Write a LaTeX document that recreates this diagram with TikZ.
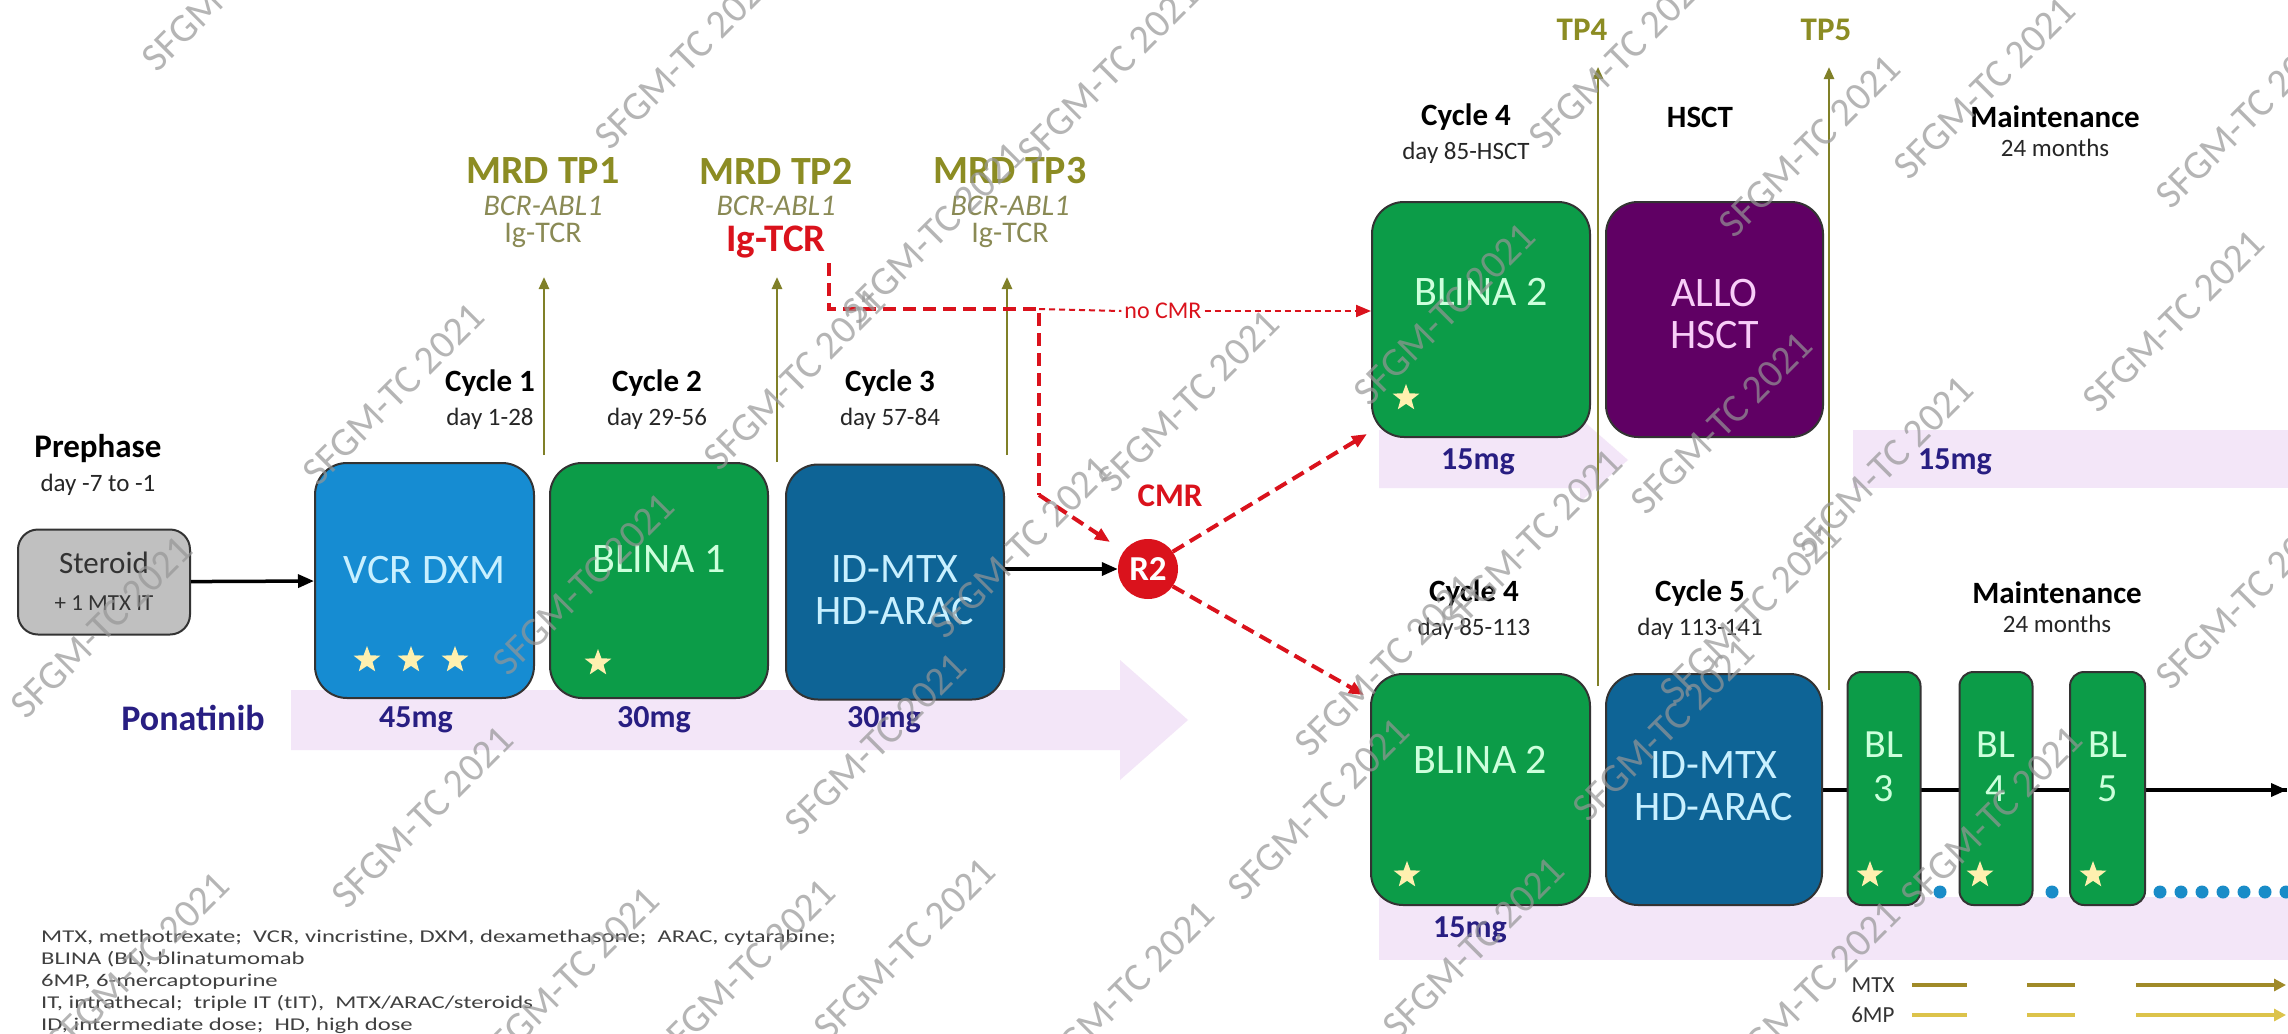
\documentclass[tikz,border=0pt]{standalone}
\usepackage{fontspec}
\setmainfont{Carlito}
\newfontfamily\legendfont{Carlito}[FakeStretch=1.37]
\usetikzlibrary{arrows.meta,positioning,shapes.geometric,calc}

% colours of the scheme
\definecolor{vcrblue}{RGB}{22,140,210}
\definecolor{blinagreen}{RGB}{12,156,72}
\definecolor{mtxblue}{RGB}{14,100,150}
\definecolor{alloplum}{RGB}{96,0,100}
\definecolor{steroidgray}{RGB}{192,192,192}
\definecolor{bandpink}{RGB}{243,230,248}
\definecolor{dosenavy}{RGB}{40,30,130}
\definecolor{tpolive}{RGB}{128,128,40}
\definecolor{mrdolive}{RGB}{140,140,35}
\definecolor{abltext}{RGB}{138,138,85}
\definecolor{cmrred}{RGB}{218,18,28}
\definecolor{dotblue}{RGB}{25,140,200}
\definecolor{mtxgold}{RGB}{160,138,40}
\definecolor{mpyellow}{RGB}{220,195,75}
\definecolor{starcream}{RGB}{255,240,175}
\definecolor{cyantext}{RGB}{200,240,255}
\definecolor{greentext}{RGB}{205,255,220}
\definecolor{pinktext}{RGB}{248,205,248}
\definecolor{wmgray}{RGB}{150,150,150}

\newcommand{\pxfont}[2]{\fontsize{#1}{#2}\selectfont}

\tikzset{
  phasebox/.style={draw=black!80, line width=2pt, rounded corners=32pt, inner sep=0pt, minimum height=235pt},
  blbox/.style={phasebox, rounded corners=14pt, fill=blinagreen, minimum width=73pt, minimum height=233pt},
  boxtxt/.style={align=center, font=\pxfont{42}{42}},
  head/.style={font=\bfseries\pxfont{31}{36}, inner sep=2pt},
  dayline/.style={font=\pxfont{25}{28}, text=black!85, inner sep=2pt, below=7pt of #1},
  dose/.style={font=\bfseries\pxfont{32}{36}, text=dosenavy},
  mrd/.style={font=\bfseries\pxfont{40}{44}, text=mrdolive, inner sep=2pt},
  marker/.style={font=\pxfont{30}{32}, text=abltext, inner sep=2pt},
  starmark/.style={star, star points=5, star point ratio=2.4, fill=starcream, minimum size=28pt, inner sep=0pt},
  tparrow/.style={-{Triangle[length=12pt,width=10pt]}, draw=tpolive, line width=2.5pt},
  flow/.style={-{Triangle[length=16pt,width=13pt]}, line width=3.5pt},
  cmrpath/.style={draw=cmrred, line width=4pt, dash pattern=on 13pt off 7pt},
  cmrthin/.style={draw=cmrred, line width=2pt, dash pattern=on 6pt off 4pt},
  redtip/.style={-{Triangle[length=15pt,width=12pt]}},
  wmark/.style={rotate=45, text=wmgray, font=\pxfont{40}{40}, opacity=.7},
}

\begin{document}
\begin{tikzpicture}[x=1pt, y=-1pt]
  \fill[white] (0,0) rectangle (2288,1033);
  \useasboundingbox (0,0) rectangle (2288,1033);

  % ponatinib bands
  \fill[bandpink] (291,690) -- (1120,690) -- (1120,660) -- (1188,720) -- (1120,780) -- (1120,750) -- (291,750) -- cycle;
  \fill[bandpink] (1379,430) -- (1580,430) -- (1580,418) -- (1628,460) -- (1580,502) -- (1580,488) -- (1379,488) -- cycle;
  \fill[bandpink] (1853,430) rectangle (2288,488);
  \fill[bandpink] (1379,897) rectangle (2288,960);

  % first line
  \node[phasebox, fill=steroidgray, minimum width=172pt, minimum height=105pt, rounded corners=20pt] (steroid) at (104,582) {};
  \node[font=\pxfont{31}{36}, text=black!80] at (104,563) {Steroid};
  \node[font=\pxfont{23}{26}, text=black!80] at (104,603) {+ 1 MTX IT};
  \node[phasebox, fill=vcrblue, minimum width=219pt] (vcr) at (424.5,580.5) {};
  \node[boxtxt, text=cyantext] at (424.5,570) {VCR DXM};
  \node[phasebox, fill=blinagreen, minimum width=218pt] (blina1) at (659,580.5) {};
  \node[boxtxt, text=greentext] at (659,559) {BLINA 1};
  \node[phasebox, fill=mtxblue, minimum width=218pt] (idmtx1) at (895,582) {};
  \node[boxtxt, text=cyantext] at (895,590) {ID-MTX\\HD-ARAC};
  \foreach \sx in {367,411,455} \node[starmark] at (\sx,660) {};
  \node[starmark] at (598,663) {};

  \node[head] (pre) at (98,449) {\pxfont{33}{38}Prephase};
  \node[dayline=pre] {day -7 to -1};
  \node[head] (cyc1) at (490,383) {Cycle 1};
  \node[dayline=cyc1] {day 1-28};
  \node[head] (cyc2) at (657,383) {Cycle 2};
  \node[dayline=cyc2] {day 29-56};
  \node[head] (cyc3) at (890,383) {Cycle 3};
  \node[dayline=cyc3] {day 57-84};

  \node[font=\bfseries\pxfont{36}{40}, text=dosenavy] at (193,718) {Ponatinib};
  \node[dose] at (416,720) {45mg};
  \node[dose] at (654,720) {30mg};
  \node[dose] at (884,720) {30mg};

  % MRD time points
  \node[mrd] (mrd1) at (543,171) {MRD TP1};
  \node[marker] (abl1) at (543,206) {\itshape BCR-ABL1};
  \node[marker] (ig1) at (543,235) {Ig-TCR};
  \node[mrd] (mrd2) at (776,171) {MRD TP2};
  \node[marker] (abl2) at (776,206) {\itshape BCR-ABL1};
  \node[mrd, text=cmrred, font=\bfseries\pxfont{39}{42}] (ig2) at (776,242) {Ig-TCR};
  \node[mrd] (mrd3) at (1010,171) {MRD TP3};
  \node[marker] (abl3) at (1010,206) {\itshape BCR-ABL1};
  \node[marker] (ig3) at (1010,235) {Ig-TCR};
  \coordinate (tp1foot) at (544,455);
  \coordinate (tp2foot) at (777,462);
  \coordinate (tp3foot) at (1007,455);
  \draw[tparrow] (tp1foot) -- (tp1foot |- 0,277);
  \draw[tparrow] (tp2foot) -- (tp2foot |- 0,277);
  \draw[tparrow] (tp3foot) -- (tp3foot |- 0,277);

  % randomisation R2
  \node[circle, fill=cmrred, minimum size=60pt, inner sep=0pt, text=white, font=\bfseries\pxfont{35}{36}] (r2) at (1148,569) {R2};
  \node[font=\bfseries\pxfont{33}{36}, text=cmrred] (cmr) at (1170,496) {CMR};
  \draw[flow] (steroid) -- (vcr);
  \draw[flow] (idmtx1.east |- r2) -- (r2);

  % second part, no CMR arm
  \node[phasebox, fill=blinagreen, minimum width=218pt] (blina2up) at (1481,319.5) {};
  \node[boxtxt, text=greentext] at (1481,292) {BLINA 2};
  \node[phasebox, fill=alloplum, minimum width=217pt] (allo) at (1714.5,319.5) {};
  \node[boxtxt, text=pinktext] at (1714.5,314) {ALLO\\HSCT};
  \node[starmark] at (1406,398) {};
  \node[head] (cyc4a) at (1466,117) {Cycle 4};
  \node[dayline=cyc4a] {day 85-HSCT};
  \node[head] at (1700,117) {HSCT};
  \node[head] (maintA) at (2055,117) {Maintenance};
  \node[dayline=maintA] {24 months};
  \node[dose] at (1478,462) {15mg};
  \node[dose] at (1955,462) {15mg};

  % second part, CMR arm
  \draw[line width=3.5pt] (1820,790) coordinate (lineA) -- (2287,790) coordinate (lineend);
  \draw[flow] (2200,790) -- (lineend);
  \node[phasebox, fill=blinagreen, minimum width=219pt, minimum height=231pt] (blina2lo) at (1480.5,789.5) {};
  \node[boxtxt, text=greentext] at (1480.5,760) {BLINA 2};
  \node[phasebox, fill=mtxblue, minimum width=216pt, minimum height=231pt] (idmtx2) at (1714,789.5) {};
  \node[boxtxt, text=cyantext] at (1714,786) {ID-MTX\\HD-ARAC};
  \node[blbox] (bl3) at (1884,788.5) {};
  \node[blbox] (bl4) at (1996,788.5) {};
  \node[blbox, minimum width=75pt] (bl5) at (2107.5,788.5) {};
  \foreach \b/\n in {bl3/3,bl4/4,bl5/5}
    \node[boxtxt, text=greentext, font=\pxfont{40}{44}] at ([yshift=22pt]\b.center) {BL\\\n};
  \foreach \sx in {1407,1870,1980,2093} \node[starmark] at (\sx,875) {};
  \foreach \dx in {1940,2052,2160,2181,2202,2223,2244,2265,2286}
    \fill[dotblue] (\dx,892) circle (6.5pt);
  \node[head] (cyc4b) at (1474,593) {Cycle 4};
  \node[dayline=cyc4b] {day 85-113};
  \node[head] (cyc5) at (1700,593) {Cycle 5};
  \node[dayline=cyc5] {day 113-141};
  \node[head] (maintB) at (2057,593) {Maintenance};
  \node[dayline=maintB] {24 months};
  \node[dose] at (1470,930) {15mg};

  % TP4 / TP5
  \node[mrd, font=\bfseries\pxfont{33}{36}] (tp4) at (1582,30) {TP4};
  \node[mrd, font=\bfseries\pxfont{33}{36}] (tp5) at (1826,30) {TP5};
  \coordinate (tp4foot) at (1598,686);
  \coordinate (tp5foot) at (1829,690);
  \draw[tparrow, shorten >=24pt] (tp4foot) -- (tp4foot |- tp4.south);
  \draw[tparrow, shorten >=24pt] (tp5foot) -- (tp5foot |- tp5.south);

  % MRD driven arms
  \node[font=\pxfont{24}{26}, text=cmrred, inner sep=3pt] (nocmr) at (1163,311) {no CMR};
  \coordinate (igfoot) at (829,263);
  \coordinate (split) at (1039,309);
  \coordinate (bend) at (1039,495);
  \coordinate (cmrtip) at (1110,542);
  \draw[cmrpath] (igfoot) |- (split) -- (bend);
  \draw[cmrpath, redtip] (bend) -- (cmrtip);
  \draw[cmrthin] (split) -- (nocmr.west);
  \draw[cmrthin, redtip] (nocmr.east) -- (nocmr.east -| blina2up.west);
  \draw[cmrpath, redtip] (r2.35) -- ([shift={(-4pt,4pt)}]blina2up.south west);
  \draw[cmrpath, redtip] (r2.-35) -- ([shift={(-6pt,-22pt)}]blina2lo.north west);

  % oral maintenance
  \node[font=\pxfont{23}{26}, text=black!80, anchor=east] (mtxlab) at (1898,985) {MTX};
  \node[font=\pxfont{23}{26}, text=black!80, anchor=east] (mplab) at (1898,1015) {6MP};
  \foreach \ya/\col in {985/mtxgold,1015/mpyellow}{
    \draw[\col, line width=4.5pt] (1912,\ya) -- (1967,\ya);
    \draw[\col, line width=4.5pt] (2027,\ya) -- (2075,\ya);
    \draw[\col, line width=4.5pt, -{Triangle[length=12pt,width=12pt]}] (2136,\ya) -- (2286,\ya);
  }

  % abbreviations
  \node[anchor=north west, align=left, inner sep=0pt, text=black!75, font=\legendfont\pxfont{18}{22}] (legend) at (41,930)
    {MTX, methotrexate;\ \ VCR, vincristine, DXM, dexamethasone;\ \ ARAC, cytarabine;\\
     BLINA (BL), blinatumomab\\
     6MP, 6-mercaptopurine\\
     IT, intrathecal;\ \ triple IT (tIT),\ \ MTX/ARAC/steroids\\
     ID, intermediate dose;\ \ HD, high dose};

  % watermark
  \foreach \wx/\wy in {102/627,394/394,423/817,584/584,795/379,934/233,686/58,1109/73,
                      876/744,1021/547,1189/401,1386/665,1319/809,905/949,569/978,139/963,
                      745/970,1124/992,1445/314,1532/540,1474/948,1664/730,1722/423,1751/613,
                      1620/58,1810/146,1883/467,1985/88,2247/117,2174/321,2247/598,1992/817,
                      1810/992,233/-20}
    \node[wmark] at (\wx,\wy) {SFGM-TC 2021};
\end{tikzpicture}
\end{document}
